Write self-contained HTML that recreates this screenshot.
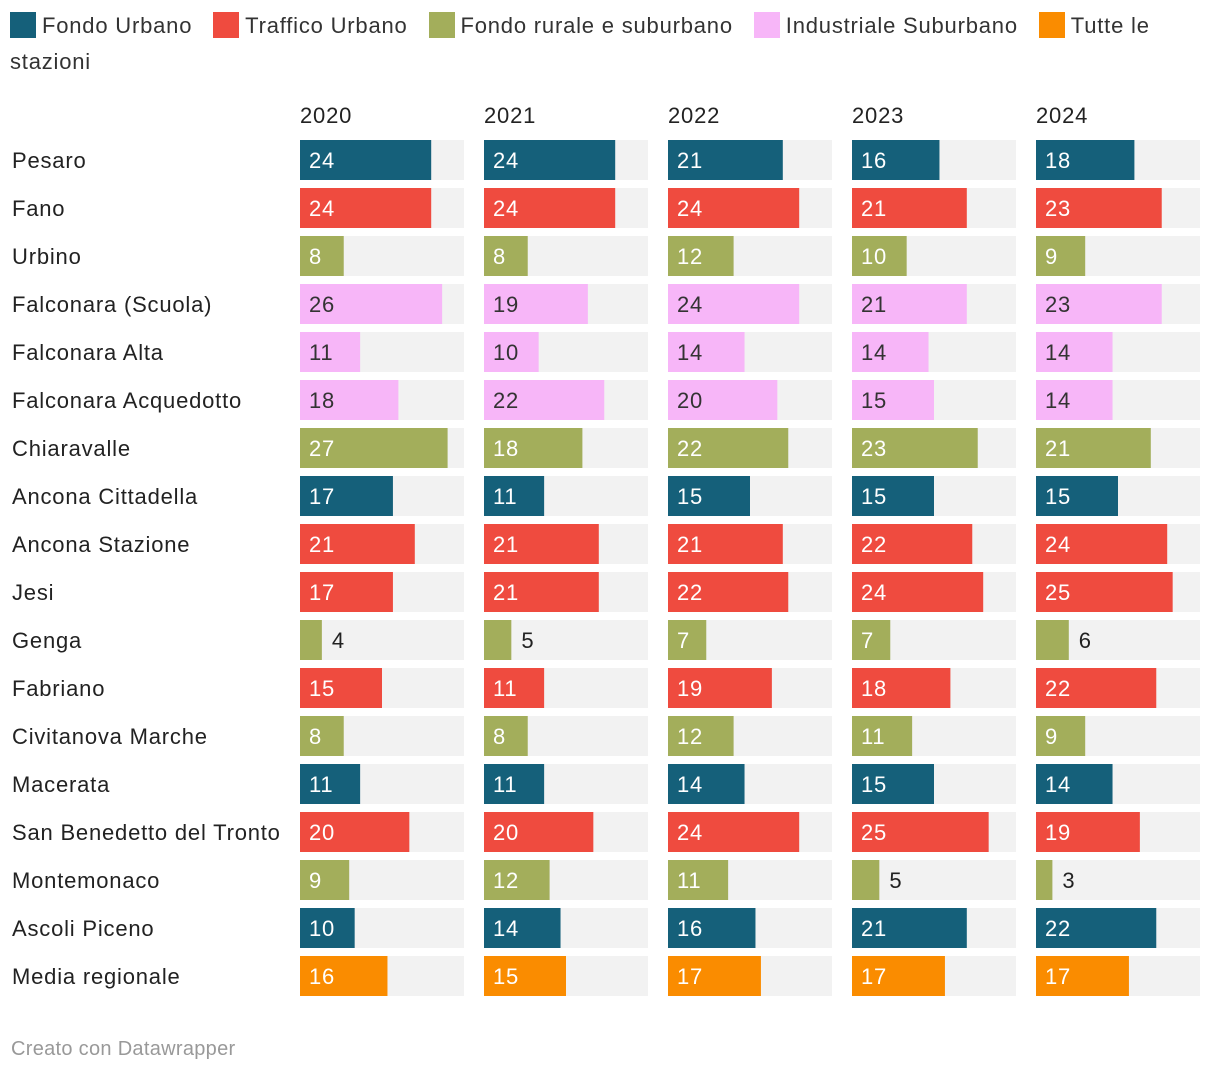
<!DOCTYPE html>
<html><head><meta charset="utf-8">
<style>
body{margin:0;width:1220px;height:1074px;background:#fff;font-family:"Liberation Sans",Roboto,sans-serif;color:#333;position:relative;overflow:hidden}
.legend{position:absolute;left:10px;top:8px;width:1170px;font-size:22px;letter-spacing:0.8px;line-height:36px;color:#333}
.li{margin-right:14px}
.sw{display:inline-block;width:26px;height:26px;vertical-align:-5px;margin-right:6px}
.foot{position:absolute;left:11px;top:1038px;font-size:20px;letter-spacing:0.3px;color:#999}
</style></head><body>
<div class="legend">
<span class="li"><span class="sw" style="background:#15607a"></span>Fondo Urbano</span> <span class="li"><span class="sw" style="background:#ef4b3f"></span>Traffico Urbano</span> <span class="li"><span class="sw" style="background:#a3ae5b"></span>Fondo rurale e suburbano</span> <span class="li"><span class="sw" style="background:#f7b6f8"></span>Industriale Suburbano</span> <span class="li"><span class="sw" style="background:#fa8c00"></span>Tutte le stazioni</span>
</div>
<svg id="chart" width="1220" height="1074" style="position:absolute;left:0;top:0"></svg>
<div class="foot">Creato con Datawrapper</div>
<script>
const years=["2020","2021","2022","2023","2024"];
const stations=["Pesaro","Fano","Urbino","Falconara (Scuola)","Falconara Alta","Falconara Acquedotto","Chiaravalle","Ancona Cittadella","Ancona Stazione","Jesi","Genga","Fabriano","Civitanova Marche","Macerata","San Benedetto del Tronto","Montemonaco","Ascoli Piceno","Media regionale"];
const types=["U","T","R","I","I","I","R","U","T","T","R","T","R","U","T","R","U","A"];
const v2020=[24,24,8,26,11,18,27,17,21,17,4,15,8,11,20,9,10,16];
const v2021=[24,24,8,19,10,22,18,11,21,21,5,11,8,11,20,12,14,15];
const v2022=[21,24,12,24,14,20,22,15,21,22,7,19,12,14,24,11,16,17];
const v2023=[16,21,10,21,14,15,23,15,22,24,7,18,11,15,25,5,21,17];
const v2024=[18,23,9,23,14,14,21,15,24,25,6,22,9,14,19,3,22,17];
const series=[v2020,v2021,v2022,v2023,v2024];
const colors={U:"#15607a",T:"#ef4b3f",R:"#a3ae5b",I:"#f7b6f8",A:"#fa8c00"};
const maxV=30, colW=164, colX0=300, colStep=184, rowY0=140, rowStep=48, barH=40;
const xs=v=>v/maxV*colW;
const svg=document.getElementById('chart');
const NS="http://www.w3.org/2000/svg";
function mk(t,a){const e=document.createElementNS(NS,t);for(const k in a)e.setAttribute(k,a[k]);svg.appendChild(e);return e;}
years.forEach((y,c)=>{
 const t=mk('text',{x:colX0+c*colStep,y:123,'font-size':22,'letter-spacing':0.8,fill:'#222','font-family':'Liberation Sans, sans-serif'});
 t.textContent=y;
 
 
});
stations.forEach((s,r)=>{
 const y=rowY0+r*rowStep;
 const t=mk('text',{x:12,y:y+28,'font-size':22,'letter-spacing':0.8,fill:'#222','font-family':'Liberation Sans, sans-serif'});
 t.textContent=s;
 
 
 series.forEach((vals,c)=>{
  const x=colX0+c*colStep, v=vals[r];
  const bg=mk('rect',{x:x,y:y,width:colW,height:barH,fill:'#f2f2f2'});
  
  
  const b=mk('rect',{x:x,y:y,width:xs(v),height:barH,fill:colors[types[r]]});
  
  
  const inside=v>6;
  const fillc=inside?(types[r]==='I'?'#333':'#fff'):'#222';
  const lt=mk('text',{x:inside?x+9:x+xs(v)+10,y:y+28,'font-size':22,'letter-spacing':0.8,fill:fillc,'font-family':'Liberation Sans, sans-serif'});
  lt.textContent=v;
  
  
 });
});
</script>
</body></html>
